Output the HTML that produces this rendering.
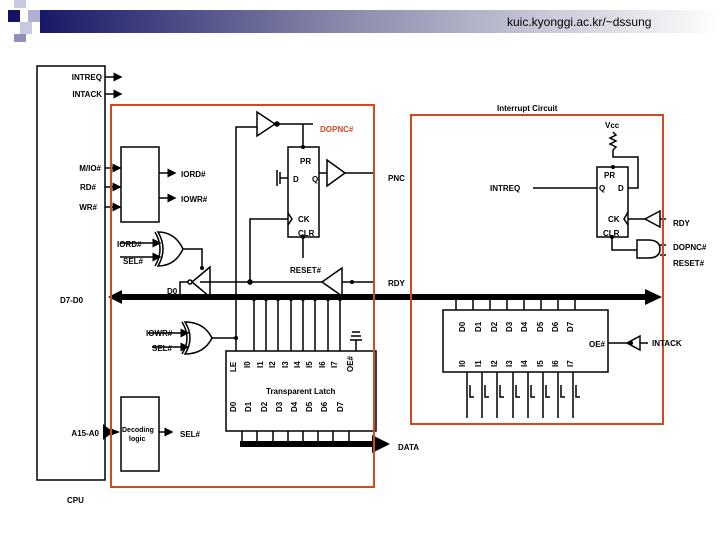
<!DOCTYPE html>
<html><head><meta charset="utf-8"><style>
html,body{margin:0;padding:0;background:#fff;}
svg{display:block;}
text{font-family:"Liberation Sans",sans-serif;font-weight:bold;font-size:8px;fill:#000;}
</style></head><body>
<svg width="720" height="540" viewBox="0 0 720 540" xmlns="http://www.w3.org/2000/svg">
<defs>
<linearGradient id="g" x1="0" x2="1" y1="0" y2="0">
<stop offset="0" stop-color="#141466"/><stop offset="0.45" stop-color="#8888aa"/><stop offset="1" stop-color="#ffffff"/>
</linearGradient>
<marker id="a" markerWidth="6" markerHeight="6" refX="5" refY="3" orient="auto"><path d="M0,0L6,3L0,6z" fill="#000"/></marker>
</defs>
<rect x="30" y="10" width="690" height="23" fill="url(#g)"/>
<rect x="0" y="0" width="40" height="44" fill="#fff"/>
<rect x="14" y="0" width="12" height="8" fill="#c8c8e0"/>
<rect x="8" y="10" width="12" height="12" fill="#141466"/>
<rect x="28" y="10" width="12" height="12" fill="#b0b0d0"/>
<rect x="20" y="22" width="12" height="12" fill="#c8c8e0"/>
<rect x="14" y="34" width="12" height="8" fill="#9090b8"/>
<text x="507" y="26" style="font-size:12px;font-weight:normal">kuic.kyonggi.ac.kr/~dssung</text>

<g stroke="#000" stroke-width="1.5" fill="none">
<rect x="37" y="66" width="68" height="414"/>
<line x1="105" y1="77" x2="121" y2="77" marker-end="url(#a)"/>
<line x1="105" y1="94" x2="121" y2="94" marker-end="url(#a)"/>
<rect x="121" y="147" width="38" height="75"/>
<line x1="105" y1="168" x2="120" y2="168" marker-end="url(#a)"/>
<line x1="105" y1="187" x2="120" y2="187" marker-end="url(#a)"/>
<line x1="105" y1="207" x2="120" y2="207" marker-end="url(#a)"/>
<line x1="159" y1="173" x2="175" y2="173" marker-end="url(#a)"/>
<line x1="159" y1="198" x2="175" y2="198" marker-end="url(#a)"/>
<polyline points="236,338 236,127 257,127"/>
<path d="M257,112L275,124L257,136z"/>
<circle cx="277" cy="124" r="2" fill="#000"/>
<line x1="279" y1="124" x2="313" y2="124"/>
<line x1="303" y1="124" x2="303" y2="147"/>
<rect x="288" y="147" width="31" height="90"/>
<line x1="280" y1="178" x2="288" y2="178"/>
<line x1="280" y1="172" x2="280" y2="184"/><line x1="277" y1="170" x2="277" y2="186"/>
<line x1="319" y1="173" x2="327" y2="173"/>
<path d="M327,160L345,173L327,186z"/>
<line x1="345" y1="173" x2="374" y2="173"/>
<polyline points="288,213 292,219 288,225"/>
<polyline points="250,282 250,219 288,219"/>
<line x1="303" y1="237" x2="303" y2="258"/>
<path d="M342,268L322,282L342,296z"/>
<line x1="342" y1="282" x2="374" y2="282"/>
<line x1="200" y1="282" x2="322" y2="282"/>
<circle cx="250" cy="282" r="2" fill="#000"/>
<path d="M210,267L192,282L210,297z"/>
<circle cx="190" cy="282" r="2"/>
<polyline points="188,282 180,282 180,297"/>
<path d="M158,232Q175,232 183,249Q175,266 158,266Q168,249 158,232z"/>
<path d="M155,232Q165,249 155,266"/>
<line x1="120" y1="243" x2="160" y2="243" marker-end="url(#a)"/>
<line x1="120" y1="257" x2="160" y2="257" marker-end="url(#a)"/>
<polyline points="183,249 202,249 202,268"/>
<path d="M185,322Q204,322 212,338Q204,354 185,354Q195,338 185,322z"/>
<path d="M182,322Q192,338 182,354"/>
<line x1="148" y1="333" x2="188" y2="333" marker-end="url(#a)"/>
<line x1="152" y1="347" x2="188" y2="347" marker-end="url(#a)"/>
<line x1="212" y1="338" x2="236" y2="338"/>
<line x1="236" y1="338" x2="236" y2="351"/>
<rect x="226" y="351" width="150" height="80"/>
<line x1="254" y1="297" x2="254" y2="351"/><line x1="266" y1="297" x2="266" y2="351"/>
<line x1="278" y1="297" x2="278" y2="351"/><line x1="291" y1="297" x2="291" y2="351"/>
<line x1="303" y1="297" x2="303" y2="351"/><line x1="315" y1="297" x2="315" y2="351"/>
<line x1="328" y1="297" x2="328" y2="351"/><line x1="340" y1="297" x2="340" y2="351"/>
<line x1="356" y1="340" x2="356" y2="351"/>
<line x1="350" y1="340" x2="362" y2="340"/><line x1="351" y1="336" x2="361" y2="336"/><line x1="352" y1="332" x2="360" y2="332"/>
<line x1="242" y1="431" x2="242" y2="444"/><line x1="257" y1="431" x2="257" y2="444"/>
<line x1="273" y1="431" x2="273" y2="444"/><line x1="288" y1="431" x2="288" y2="444"/>
<line x1="303" y1="431" x2="303" y2="444"/><line x1="318" y1="431" x2="318" y2="444"/>
<line x1="333" y1="431" x2="333" y2="444"/><line x1="349" y1="431" x2="349" y2="444"/>
<rect x="121" y="397" width="38" height="74"/>
<line x1="159" y1="432" x2="172" y2="432" marker-end="url(#a)"/>
<rect x="597" y="167" width="31" height="70"/>
<polyline points="613,150 613,157 638,157 638,188 628,188"/>
<path d="M613,132l3,3l-6,3l6,3l-6,3l6,3l-3,3"/>
<line x1="533" y1="188" x2="597" y2="188"/>
<polyline points="628,212 624,219 628,225"/>
<line x1="628" y1="219" x2="645" y2="219"/>
<path d="M660,211L645,219L660,227z"/>
<line x1="660" y1="219" x2="666" y2="219"/>
<polyline points="612,237 612,250 637,250"/>
<path d="M637,240L648,240Q660,240 660,249Q660,258 648,258L637,258z"/>
<line x1="660" y1="245" x2="666" y2="245"/><line x1="660" y1="255" x2="666" y2="255"/>
<rect x="443" y="310" width="165" height="62"/>
<line x1="456" y1="297" x2="456" y2="310"/><line x1="473" y1="297" x2="473" y2="310"/>
<line x1="490" y1="297" x2="490" y2="310"/><line x1="507" y1="297" x2="507" y2="310"/>
<line x1="524" y1="297" x2="524" y2="310"/><line x1="541" y1="297" x2="541" y2="310"/>
<line x1="558" y1="297" x2="558" y2="310"/><line x1="575" y1="297" x2="575" y2="310"/>
<line x1="608" y1="343" x2="627" y2="343"/>
<path d="M640,336L627,343L640,350z"/>
<line x1="640" y1="343" x2="648" y2="343"/>
<path d="M467,372v46M482,372v46M497,372v46M513,372v46M528,372v46M543,372v46M558,372v46M573,372v46"/>
<path d="M470,385v12h4M485,385v12h4M500,385v12h4M516,385v12h4M531,385v12h4M546,385v12h4M561,385v12h4M576,385v12h4"/>
</g>
<g fill="#000">
<circle cx="254" cy="299" r="2"/><circle cx="266" cy="299" r="2"/><circle cx="278" cy="299" r="2"/><circle cx="291" cy="299" r="2"/>
<circle cx="303" cy="299" r="2"/><circle cx="315" cy="299" r="2"/><circle cx="328" cy="299" r="2"/><circle cx="340" cy="299" r="2"/>
<circle cx="236" cy="338" r="2"/><circle cx="303" cy="147" r="2"/><circle cx="303" cy="237" r="2"/><circle cx="612" cy="237" r="2"/><circle cx="613" cy="167" r="2"/>
<circle cx="352" cy="282" r="2"/><circle cx="202" cy="268" r="2"/><circle cx="631" cy="343" r="2"/>
<rect x="118" y="294" width="530" height="6"/>
<path d="M108,297L122,290L122,304z"/>
<path d="M645,289L662,297L645,305z"/>
<rect x="240" y="441" width="135" height="6"/>
<path d="M372,435L390,444L372,453z"/>
<rect x="105" y="429" width="6" height="6"/>
<path d="M103,424L113,432L103,440z"/>
<path d="M110,428L120,432L110,436z"/>
</g>
<rect x="111" y="105" width="263" height="382" fill="none" stroke="#d04a20" stroke-width="2"/>
<rect x="411" y="115" width="252" height="309" fill="none" stroke="#d04a20" stroke-width="2"/>
<g text-anchor="end">
<text x="102" y="80">INTREQ</text>
<text x="102" y="97">INTACK</text>
<text x="101" y="171">M/IO#</text>
<text x="96" y="190">RD#</text>
<text x="97" y="210">WR#</text>
<text x="99" y="436">A15-A0</text>
</g>
<text x="497" y="111">Interrupt Circuit</text>
<text x="320" y="132" style="fill:#d04a20">DOPNC#</text>
<text x="605" y="128">Vcc</text>
<text x="181" y="177">IORD#</text>
<text x="181" y="202">IOWR#</text>
<text x="300" y="164">PR</text>
<text x="293" y="182">D</text>
<text x="312" y="182">Q</text>
<text x="298" y="222">CK</text>
<text x="298" y="236">CLR</text>
<text x="388" y="181">PNC</text>
<text x="490" y="191">INTREQ</text>
<text x="604" y="178">PR</text>
<text x="599" y="191">Q</text>
<text x="618" y="191">D</text>
<text x="608" y="222">CK</text>
<text x="603" y="236">CLR</text>
<text x="673" y="226">RDY</text>
<text x="673" y="250">DOPNC#</text>
<text x="673" y="266">RESET#</text>
<text x="117" y="247">IORD#</text>
<text x="123" y="264">SEL#</text>
<text x="290" y="273">RESET#</text>
<text x="388" y="286">RDY</text>
<text x="167" y="294">D0</text>
<text x="60" y="303">D7-D0</text>
<text x="146" y="336">IOWR#</text>
<text x="152" y="351">SEL#</text>
<text x="589" y="347">OE#</text>
<text x="652" y="346">INTACK</text>
<text x="266" y="394">Transparent Latch</text>
<text x="122" y="432" style="font-size:7px">Decoding</text>
<text x="129" y="441" style="font-size:7px">logic</text>
<text x="180" y="437">SEL#</text>
<text x="398" y="450">DATA</text>
<text x="67" y="503">CPU</text>
<g style="font-size:7px">
<text transform="translate(236,412) rotate(-90)">D0</text><text transform="translate(251,412) rotate(-90)">D1</text>
<text transform="translate(267,412) rotate(-90)">D2</text><text transform="translate(282,412) rotate(-90)">D3</text>
<text transform="translate(297,412) rotate(-90)">D4</text><text transform="translate(312,412) rotate(-90)">D5</text>
<text transform="translate(327,412) rotate(-90)">D6</text><text transform="translate(343,412) rotate(-90)">D7</text>
<text transform="translate(236,372) rotate(-90)">LE</text><text transform="translate(250,368) rotate(-90)">I0</text>
<text transform="translate(263,368) rotate(-90)">I1</text><text transform="translate(275,368) rotate(-90)">I2</text>
<text transform="translate(288,368) rotate(-90)">I3</text><text transform="translate(300,368) rotate(-90)">I4</text>
<text transform="translate(312,368) rotate(-90)">I5</text><text transform="translate(325,368) rotate(-90)">I6</text>
<text transform="translate(337,368) rotate(-90)">I7</text><text transform="translate(353,372) rotate(-90)">OE#</text>
<text transform="translate(465,332) rotate(-90)">D0</text><text transform="translate(481,332) rotate(-90)">D1</text>
<text transform="translate(497,332) rotate(-90)">D2</text><text transform="translate(512,332) rotate(-90)">D3</text>
<text transform="translate(527,332) rotate(-90)">D4</text><text transform="translate(543,332) rotate(-90)">D5</text>
<text transform="translate(558,332) rotate(-90)">D6</text><text transform="translate(573,332) rotate(-90)">D7</text>
<text transform="translate(465,367) rotate(-90)">I0</text><text transform="translate(481,367) rotate(-90)">I1</text>
<text transform="translate(497,367) rotate(-90)">I2</text><text transform="translate(512,367) rotate(-90)">I3</text>
<text transform="translate(527,367) rotate(-90)">I4</text><text transform="translate(543,367) rotate(-90)">I5</text>
<text transform="translate(558,367) rotate(-90)">I6</text><text transform="translate(573,367) rotate(-90)">I7</text>
</g>
</svg>
</body></html>
